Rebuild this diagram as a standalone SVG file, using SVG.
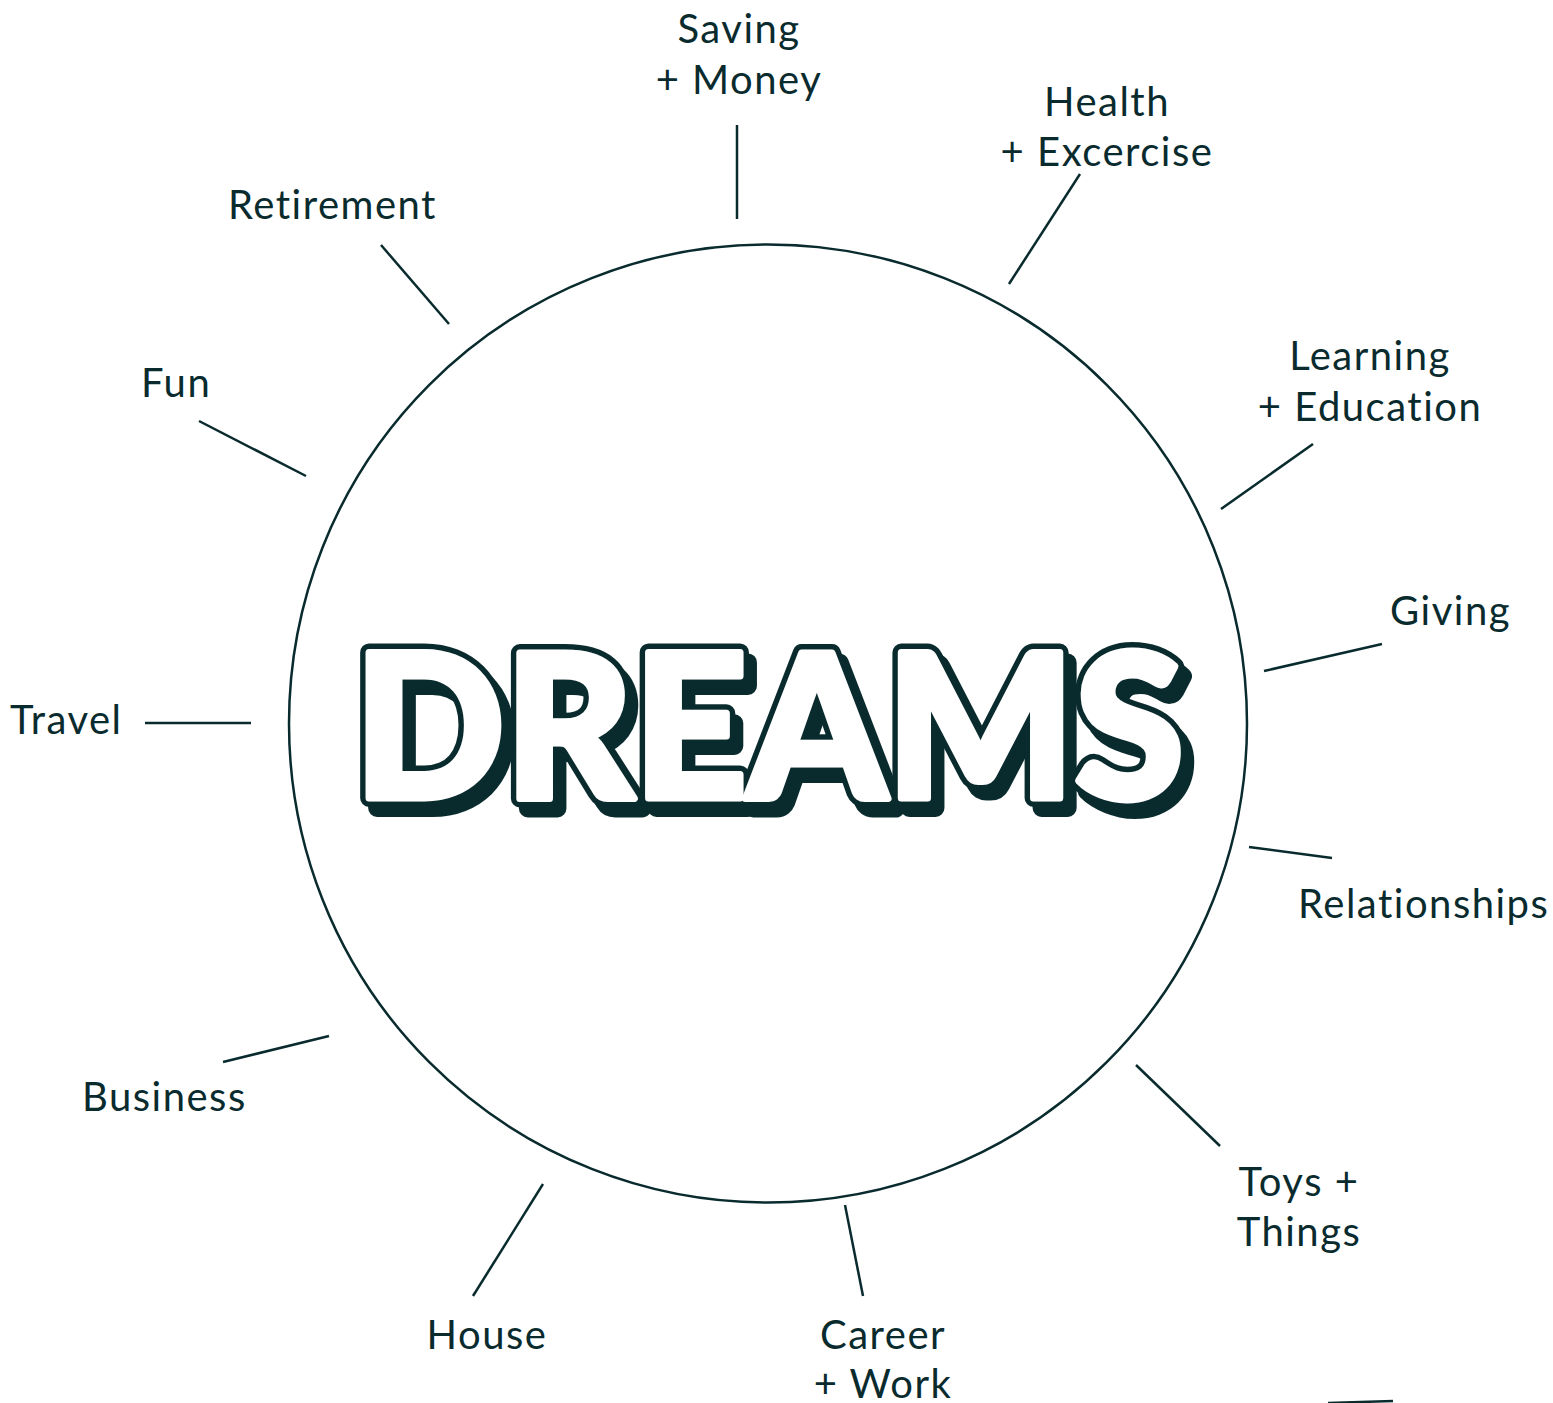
<svg xmlns="http://www.w3.org/2000/svg" width="1553" height="1403" viewBox="0 0 1553 1403">
  <style>
    .lbl { font-family: Lato, "Noto Sans", "Liberation Sans", sans-serif; font-size: 40px; letter-spacing: 1.5px; fill: #0a2b2e; }
    .mid { text-anchor: middle; }
    .ln { stroke: #0a2b2e; stroke-width: 2.5; fill: none; stroke-linecap: butt; }
    .big { font-family: Lato, "Noto Sans", "Liberation Sans", sans-serif; font-weight: 900; font-size: 200px; stroke-linejoin: round; }
  </style>
  <rect width="1553" height="1403" fill="#ffffff"/>

  <g id="hub">
    <circle cx="768" cy="723.5" r="479" fill="#ffffff" stroke="#0a2b2e" stroke-width="2.5"/>
    <!-- drop shadow, outline, then emboldened white face -->
    <text class="big" x="362" y="808" textLength="830" lengthAdjust="spacingAndGlyphs" fill="#0a2b2e" stroke="#0a2b2e" stroke-width="18">DREAMS</text>
    <text class="big" x="354" y="798" textLength="830" lengthAdjust="spacingAndGlyphs" fill="#0a2b2e" stroke="#0a2b2e" stroke-width="18">DREAMS</text>
    <text class="big" x="354" y="798" textLength="830" lengthAdjust="spacingAndGlyphs" fill="#ffffff" stroke="#ffffff" stroke-width="7">DREAMS</text>
  </g>

  <g id="connectors">
    <line class="ln" x1="737" y1="125" x2="737" y2="219"/>
    <line class="ln" x1="1080" y1="174" x2="1009" y2="284"/>
    <line class="ln" x1="1313" y1="444" x2="1221" y2="509"/>
    <line class="ln" x1="1382" y1="644" x2="1264" y2="671"/>
    <line class="ln" x1="1249" y1="847" x2="1332" y2="858"/>
    <line class="ln" x1="1136" y1="1065" x2="1220" y2="1146"/>
    <line class="ln" x1="845" y1="1205" x2="863" y2="1296"/>
    <line class="ln" x1="543" y1="1184" x2="473" y2="1296"/>
    <line class="ln" x1="223" y1="1062" x2="329" y2="1036"/>
    <line class="ln" x1="145" y1="723" x2="251" y2="723"/>
    <line class="ln" x1="199" y1="421" x2="306" y2="476"/>
    <line class="ln" x1="381" y1="245" x2="449" y2="324"/>
    <line class="ln" x1="1328" y1="1403" x2="1393" y2="1401"/>
  </g>

  <g id="saving"><text class="lbl mid" x="739" y="43">Saving</text><text class="lbl mid" x="739" y="94">+ Money</text></g>
  <g id="health"><text class="lbl mid" x="1107" y="116">Health</text><text class="lbl mid" x="1107" y="166">+ Excercise</text></g>
  <g id="learning"><text class="lbl mid" x="1370" y="370">Learning</text><text class="lbl mid" x="1370" y="421">+ Education</text></g>
  <g id="giving"><text class="lbl" x="1390" y="625">Giving</text></g>
  <g id="relationships"><text class="lbl" x="1298" y="918">Relationships</text></g>
  <g id="toys"><text class="lbl mid" x="1299" y="1196">Toys +</text><text class="lbl mid" x="1299" y="1246">Things</text></g>
  <g id="career"><text class="lbl mid" x="883" y="1349">Career</text><text class="lbl mid" x="883" y="1398">+ Work</text></g>
  <g id="house"><text class="lbl mid" x="487" y="1349">House</text></g>
  <g id="business"><text class="lbl" x="82" y="1111">Business</text></g>
  <g id="travel"><text class="lbl" x="10" y="734">Travel</text></g>
  <g id="fun"><text class="lbl" x="141" y="397">Fun</text></g>
  <g id="retirement"><text class="lbl" x="228" y="219">Retirement</text></g>
</svg>
